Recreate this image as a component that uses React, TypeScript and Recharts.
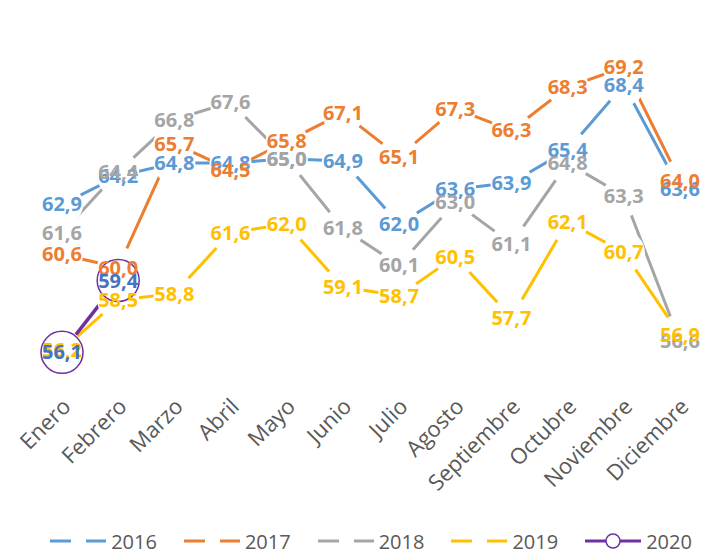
import { LineChart, Line, XAxis, YAxis, LabelList, Legend } from "recharts";

const meses = [
  "Enero",
  "Febrero",
  "Marzo",
  "Abril",
  "Mayo",
  "Junio",
  "Julio",
  "Agosto",
  "Septiembre",
  "Octubre",
  "Noviembre",
  "Diciembre",
];

const valores2016 = [62.9, 64.2, 64.8, 64.8, 65.0, 64.9, 62.0, 63.6, 63.9, 65.4, 68.4, 63.6];
const valores2017 = [60.6, 60.0, 65.7, 64.5, 65.8, 67.1, 65.1, 67.3, 66.3, 68.3, 69.2, 64.0];
const valores2018 = [61.6, 64.4, 66.8, 67.6, 65.0, 61.8, 60.1, 63.0, 61.1, 64.8, 63.3, 56.6];
const valores2019 = [56.2, 58.5, 58.8, 61.6, 62.0, 59.1, 58.7, 60.5, 57.7, 62.1, 60.7, 56.9];
const valores2020 = [56.1, 59.4];

const series = [
  { key: "a2016", nombre: "2016", color: "#5B9BD5", etiqueta: "#5B9BD5" },
  { key: "a2017", nombre: "2017", color: "#ED7D31", etiqueta: "#ED7D31" },
  { key: "a2018", nombre: "2018", color: "#A5A5A5", etiqueta: "#A5A5A5" },
  { key: "a2019", nombre: "2019", color: "#FFC000", etiqueta: "#FFC000" },
  { key: "a2020", nombre: "2020", color: "#7030A0", etiqueta: "#4472C4" },
];

const datos = meses.map((mes, i) => ({
  mes,
  a2016: valores2016[i],
  a2017: valores2017[i],
  a2018: valores2018[i],
  a2019: valores2019[i],
  a2020: i < valores2020.length ? valores2020[i] : null,
}));

const FUENTE = "'Open Sans', 'Noto Sans', sans-serif";

function formato(v: number) {
  return v.toFixed(1).replace(".", ",");
}

function TickMes(props: any) {
  const { x, y, payload } = props;
  return (
    <text
      x={0}
      y={0}
      transform={`translate(${x + 10},${y + 2}) rotate(-45)`}
      textAnchor="end"
      fontFamily={FUENTE}
      fontSize={22}
      fill="#595959"
    >
      {payload.value}
    </text>
  );
}

function puntoBlanco(props: any) {
  const { cx, cy, index } = props;
  if (cx == null || cy == null || props.value == null) return <g key={index} />;
  return <circle key={index} cx={cx} cy={cy} r={21} fill="#fff" stroke="none" />;
}

function puntoHueco(props: any) {
  const { cx, cy, index } = props;
  if (cx == null || cy == null || props.value == null) return <g key={index} />;
  return <circle key={index} cx={cx} cy={cy} r={21} fill="none" stroke="#7030A0" strokeWidth={1.5} />;
}

function etiqueta(color: string) {
  return (props: any) => {
    const { value } = props;
    const x = props.x ?? props.viewBox?.x;
    const y = props.y ?? props.viewBox?.y;
    if (value == null || x == null || y == null) return null;
    return (
      <text
        x={x}
        y={y}
        dy={7}
        textAnchor="middle"
        fontFamily={FUENTE}
        fontWeight={700}
        fontSize={20}
        fill={color}
      >
        {formato(value)}
      </text>
    );
  };
}

function Leyenda() {
  return (
    <div
      style={{
        height: 30,
        boxSizing: "border-box",
        paddingTop: 6,
        display: "flex",
        justifyContent: "center",
        alignItems: "center",
        gap: 27,
        fontFamily: FUENTE,
        fontSize: 20,
        color: "#595959",
      }}
    >
      {series.map((s) => (
        <div key={s.key} style={{ display: "flex", alignItems: "center", gap: 5 }}>
          <svg width={56} height={20}>
            {s.key === "a2020" ? (
              <>
                <line x1={0} y1={10} x2={56} y2={10} stroke={s.color} strokeWidth={3} />
                <circle cx={28} cy={10} r={7} fill="#fff" stroke={s.color} strokeWidth={1.5} />
              </>
            ) : (
              <>
                <line x1={0} y1={10} x2={21} y2={10} stroke={s.color} strokeWidth={3} />
                <line x1={36} y1={10} x2={56} y2={10} stroke={s.color} strokeWidth={3} />
              </>
            )}
          </svg>
          <span>{s.nombre}</span>
        </div>
      ))}
    </div>
  );
}

export default function App() {
  return (
    <div style={{ position: "absolute", left: 0, top: 0, background: "#fff" }}>
      <LineChart width={715} height={553} data={datos} margin={{ top: 50, right: 7, bottom: 0, left: 34 }}>
        <XAxis
          dataKey="mes"
          axisLine={false}
          tickLine={false}
          interval={0}
          height={125}
          padding={{ left: 28, right: 28 }}
          tick={<TickMes />}
        />
        <YAxis hide domain={[54, 70]} />
        {series.map((s) => (
          <Line
            key={s.key}
            dataKey={s.key}
            stroke={s.color}
            strokeWidth={s.key === "a2020" ? 3.5 : 3}
            dot={s.key === "a2020" ? puntoHueco : puntoBlanco}
            activeDot={false}
            connectNulls={false}
            isAnimationActive={false}
          />
        ))}
        {series.map((s) => (
          <Line
            key={"lbl" + s.key}
            dataKey={s.key}
            stroke="none"
            dot={false}
            activeDot={false}
            legendType="none"
            isAnimationActive={false}
          >
            <LabelList dataKey={s.key} content={etiqueta(s.etiqueta)} />
          </Line>
        ))}
        <Legend verticalAlign="bottom" height={30} content={() => <Leyenda />} />
      </LineChart>
    </div>
  );
}
